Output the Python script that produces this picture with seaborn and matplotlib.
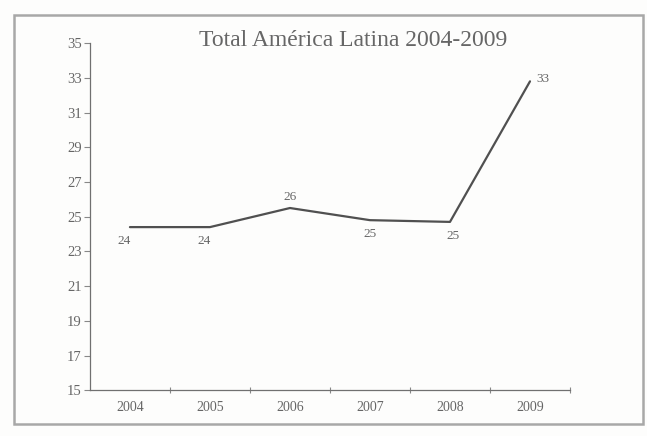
import matplotlib
matplotlib.use("Agg")
import matplotlib.pyplot as plt
from matplotlib.patches import Rectangle
from matplotlib.ticker import FixedLocator
import seaborn as sns
import pandas as pd

years = ["2004", "2005", "2006", "2007", "2008", "2009"]
values = [24.4, 24.4, 25.5, 24.8, 24.7, 32.8]
y_ticks = [15, 17, 19, 21, 23, 25, 27, 29, 31, 33, 35]
title = "Total América Latina 2004-2009"

# label placement per point: (dx, dy) in points
label_offsets = [(-4, -10), (-4, -10), (0, 8), (0, -10), (2, -10), (9, 2)]

sns.set_theme(style="white")
plt.rcParams["font.family"] = ["Liberation Serif", "DejaVu Serif"]

ink = "#666666"
df = pd.DataFrame({"year": years, "value": values})

fig = plt.figure(figsize=(6.47, 4.36), dpi=100)
fig.patch.set_facecolor("#fdfdfc")
ax = fig.add_axes([0.139, 0.105, 0.742, 0.796])
ax.set_facecolor("none")

sns.lineplot(data=df, x="year", y="value", ax=ax, color="#505050",
             linewidth=1.6, sort=False)

for i, (v, (dx, dy)) in enumerate(zip(values, label_offsets)):
    ax.annotate(f"{v:.0f}", (i, v), xytext=(dx, dy), textcoords="offset points",
                ha="center", va="center", fontsize=9.5, color=ink)

ax.set_xlim(-0.5, 5.5)
ax.set_ylim(15, 35)
ax.set_yticks(y_ticks)
ax.set_xticks(range(len(years)))
ax.set_xticklabels(years)
ax.xaxis.set_minor_locator(FixedLocator([0.5, 1.5, 2.5, 3.5, 4.5, 5.5]))
ax.tick_params(axis="x", which="major", length=0, pad=8, labelsize=10,
               labelcolor=ink)
ax.tick_params(axis="x", which="minor", length=4, width=0.8, color="#888888",
               direction="inout", bottom=True)
ax.tick_params(axis="y", which="major", length=4, width=0.8, color="#888888",
               labelsize=10.5, labelcolor=ink, pad=2, left=True)
ax.set_xlabel("")
ax.set_ylabel("")

for side in ("top", "right"):
    ax.spines[side].set_visible(False)
for side in ("left", "bottom"):
    ax.spines[side].set_color("#707070")
    ax.spines[side].set_linewidth(0.9)

fig.text(0.546, 0.906, title, ha="center", va="center", fontsize=17,
         color=ink)

fig.patches.append(Rectangle((0.021, 0.028), 0.973, 0.937,
                             transform=fig.transFigure, fill=False,
                             edgecolor="#a8a8a8", linewidth=1.8))

fig.savefig("out.png", dpi=100, facecolor=fig.get_facecolor())
